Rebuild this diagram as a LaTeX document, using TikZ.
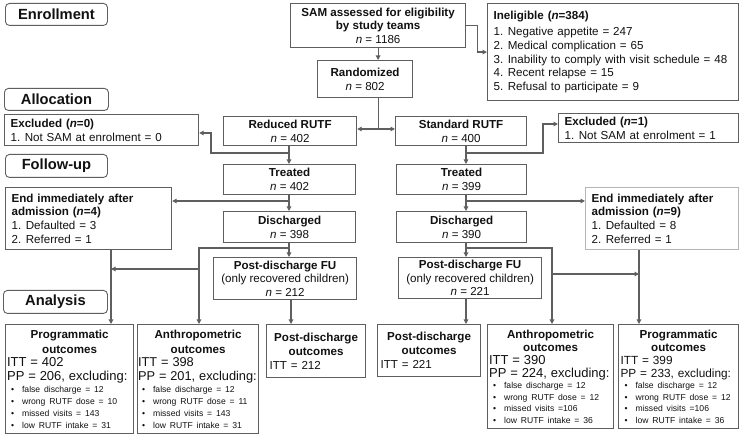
\documentclass[tikz,border=0pt]{standalone}
\usepackage{fontspec}
\setmainfont{Liberation Sans}
\usetikzlibrary{arrows.meta}
\definecolor{bordc}{HTML}{5F5F5F}
\definecolor{lightbord}{HTML}{B5B5B5}
\definecolor{txtc}{HTML}{111111}
\newcommand\mybul{\hspace*{4pt}\makebox[11pt][l]{\textbullet}}
\newcommand\nsp{\hspace{4.5pt}}
\newcommand\ttl[3]{{\centering\fontsize{11.6}{#3}\selectfont\bfseries #1\\#2\par}}
\begin{document}
\begin{tikzpicture}[x=1pt,y=-1pt,
  box/.style={draw=bordc, line width=1.2pt, fill=white, inner sep=0pt, anchor=north west, text=txtc, font=\fontsize{11.6}{13.7}\selectfont},
  stage/.style={draw=bordc, line width=0.9pt, rounded corners=4pt, fill=white, anchor=north west, inner sep=0pt, text=txtc, font=\fontsize{14.7}{16}\selectfont\bfseries},
  conn/.style={draw=bordc, line width=1.2pt, -{Triangle[length=4.5pt,width=4.5pt]}},
  plain/.style={draw=bordc, line width=1.2pt}]
\useasboundingbox (0,0) rectangle (740,435);
\fill[white] (0,0) rectangle (740,435);

% stage labels
\node[stage, minimum width=102pt, minimum height=22pt] (senr) at (5,3) {Enrollment};
\node[stage, minimum width=104pt, minimum height=22pt] (salloc) at (4,88) {Allocation};
\node[stage, minimum width=102pt, minimum height=23pt] (sfol) at (5,154) {Follow-up};
\node[stage, minimum width=104pt, minimum height=23pt] (sana) at (3,290) {Analysis};

% enrollment
\node[box, minimum width=175pt, minimum height=44pt, align=center] (sam) at (290,3)
  {\textbf{SAM assessed for eligibility}\\\textbf{by study teams}\\\textit{n} = 1186};
\node[box, minimum width=251pt, minimum height=97pt, text width=239pt, align=left] (inel) at (487,3)
  {\textbf{Ineligible (\textit{n}=384)}\\[2.5pt]
   1.\nsp Negative appetite = 247\\
   2.\nsp Medical complication = 65\\
   3.\nsp Inability to comply with visit schedule = 48\\
   4.\nsp Recent relapse = 15\\
   5.\nsp Refusal to participate = 9};
\node[box, minimum width=95pt, minimum height=37pt, align=center] (rand) at (317,60)
  {\textbf{Randomized}\\\textit{n} = 802};

% allocation
\node[box, minimum width=133pt, minimum height=29pt, align=center] (red) at (223,116)
  {\textbf{Reduced RUTF}\\\textit{n} = 402};
\node[box, minimum width=131pt, minimum height=29pt, align=center] (std) at (395,116)
  {\textbf{Standard RUTF}\\\textit{n} = 400};
\node[box, minimum width=194pt, minimum height=31pt, text width=182pt, align=left] (excl0) at (4,114)
  {\textbf{Excluded (\textit{n}=0)}\\1.\nsp Not SAM at enrolment = 0};
\node[box, minimum width=180pt, minimum height=29pt, text width=168pt, align=left] (excl1) at (558,113)
  {\textbf{Excluded (\textit{n}=1)}\\1.\nsp Not SAM at enrolment = 1};

% follow-up
\node[box, minimum width=132pt, minimum height=30pt, align=center] (trl) at (223,164)
  {\textbf{Treated}\\\textit{n} = 402};
\node[box, minimum width=130pt, minimum height=30pt, align=center] (trr) at (396,164)
  {\textbf{Treated}\\\textit{n} = 399};
\node[box, minimum width=166pt, minimum height=62pt, text width=154pt, align=left] (end4) at (5,187)
  {\textbf{End immediately after}\\\textbf{admission (\textit{n}=4)}\\1.\nsp Defaulted = 3\\2.\nsp Referred = 1};
\node[box, draw=lightbord, minimum width=153pt, minimum height=62pt, text width=141pt, align=left] (end9) at (585,187)
  {\textbf{End immediately after}\\\textbf{admission (\textit{n}=9)}\\1.\nsp Defaulted = 8\\2.\nsp Referred = 1};
\node[box, minimum width=132pt, minimum height=31pt, align=center] (dil) at (223,211)
  {\textbf{Discharged}\\\textit{n} = 398};
\node[box, minimum width=130pt, minimum height=31pt, align=center] (dir) at (396,211)
  {\textbf{Discharged}\\\textit{n} = 390};
\node[box, minimum width=143pt, minimum height=42pt, align=center] (pfl) at (213,257)
  {\textbf{Post-discharge FU}\\(only recovered children)\\\textit{n} = 212};
\node[box, minimum width=143pt, minimum height=41pt, align=center] (pfr) at (398,257)
  {\textbf{Post-discharge FU}\\(only recovered children)\\\textit{n} = 221};

% analysis
\node[box, minimum width=128pt, minimum height=109pt, text width=125pt, align=left] (progl) at (5,324)
  {\ttl{Programmatic}{outcomes}{15}%
   {\fontsize{13}{13.5}\selectfont ITT = 402\\PP = 206, excluding:\par}%
   {\fontsize{8.6}{11.9}\selectfont\mybul false discharge = 12\\\mybul wrong RUTF dose = 10\\\mybul missed visits = 143\\\mybul low RUTF intake = 31\par}};
\node[box, minimum width=121pt, minimum height=109pt, text width=120pt, align=left] (anl) at (137,324)
  {\ttl{Anthropometric}{outcomes}{15}%
   {\fontsize{12.8}{13.5}\selectfont ITT = 398\\PP = 201, excluding:\par}%
   {\fontsize{8.6}{11.9}\selectfont\mybul false discharge = 12\\\mybul wrong RUTF dose = 11\\\mybul missed visits = 143\\\mybul low RUTF intake = 31\par}};
\node[box, minimum width=99pt, minimum height=53pt, text width=93pt, align=left] (pdl) at (266,324)
  {\ttl{Post-discharge}{outcomes}{14}%
   {\fontsize{11.6}{14}\selectfont ITT = 212\par}};
\node[box, minimum width=103pt, minimum height=52pt, text width=97pt, align=left] (pdr) at (377,324)
  {\ttl{Post-discharge}{outcomes}{14}%
   {\fontsize{11.6}{14}\selectfont ITT = 221\par}};
\node[box, minimum width=126pt, minimum height=104pt, text width=123pt, align=left] (anr) at (487,324)
  {\ttl{Anthropometric}{outcomes}{13.5}%
   {\fontsize{13}{12.8}\selectfont ITT = 390\\PP = 224, excluding:\par}%
   {\fontsize{8.6}{11.6}\selectfont\mybul false discharge = 12\\\mybul wrong RUTF dose = 12\\\mybul missed visits =106\\\mybul low RUTF intake = 36\par}};
\node[box, minimum width=120pt, minimum height=104pt, text width=116pt, align=left] (progr) at (618,324)
  {\ttl{Programmatic}{outcomes}{13.5}%
   {\fontsize{11.8}{12.8}\selectfont ITT = 399\\PP = 233, excluding:\par}%
   {\fontsize{8.6}{11.6}\selectfont\mybul false discharge = 12\\\mybul wrong RUTF dose = 12\\\mybul missed visits =106\\\mybul low RUTF intake = 36\par}};

% helper coordinates
\coordinate (xl) at (289,0);
\coordinate (xr) at (466,0);
\coordinate (xp) at (291,0);
\coordinate (xe4) at (111,0);
\coordinate (xe9) at (639,0);
\coordinate (ysp) at (0,129);
\coordinate (y153) at (0,153);
\coordinate (y201) at (0,201);
\coordinate (sp) at (sam.south |- ysp);
\coordinate (e0) at (211,133);
\coordinate (e1) at (543,124);
\coordinate (c1) at (199,248);
\coordinate (c2) at (199,269);
\coordinate (c3) at (552,248);
\coordinate (c4) at (552,274);

% connectors
\draw[conn] (sam.east) -- ++(11,0) |- (inel.west);
\draw[conn] (sam.south) -- (rand.north -| sam.south);
\draw[plain] (sam.south |- rand.south) -- (sp);
\draw[conn] (sp) -- (sp -| red.east);
\draw[conn] (sp) -- (sp -| std.west);

\draw[conn] (red.south -| xl) -- (trl.north -| xl);
\draw[conn] (xl |- y153) -| (e0) -- (e0 -| excl0.east);
\draw[conn] (std.south -| xr) -- (trr.north -| xr);
\draw[conn] (xr |- y153) -| (e1) -- (e1 -| excl1.west);

\draw[conn] (trl.south -| xl) -- (dil.north -| xl);
\draw[conn] (xl |- y201) -- (y201 -| end4.east);
\draw[conn] (trr.south -| xr) -- (dir.north -| xr);
\draw[conn] (xr |- y201) -- (y201 -| end9.west);

\draw[conn] (dil.south -| xl) -- (pfl.north -| xl);
\draw[conn] (xl |- c1) -- (c1) -- (anl.north -| c1);
\draw[conn] (c2) -- (c2 -| xe4);
\draw[conn] (end4.south -| xe4) -- (progl.north -| xe4);
\draw[conn] (dir.south -| xr) -- (pfr.north -| xr);
\draw[conn] (xr |- c3) -- (c3) -- (anr.north -| c3);
\draw[conn] (c4) -- (c4 -| xe9);
\draw[conn] (end9.south -| xe9) -- (progr.north -| xe9);

\draw[conn] (pfl.south -| xp) -- (pdl.north -| xp);
\draw[conn] (pfr.south -| xr) -- (pdr.north -| xr);
\end{tikzpicture}
\end{document}
